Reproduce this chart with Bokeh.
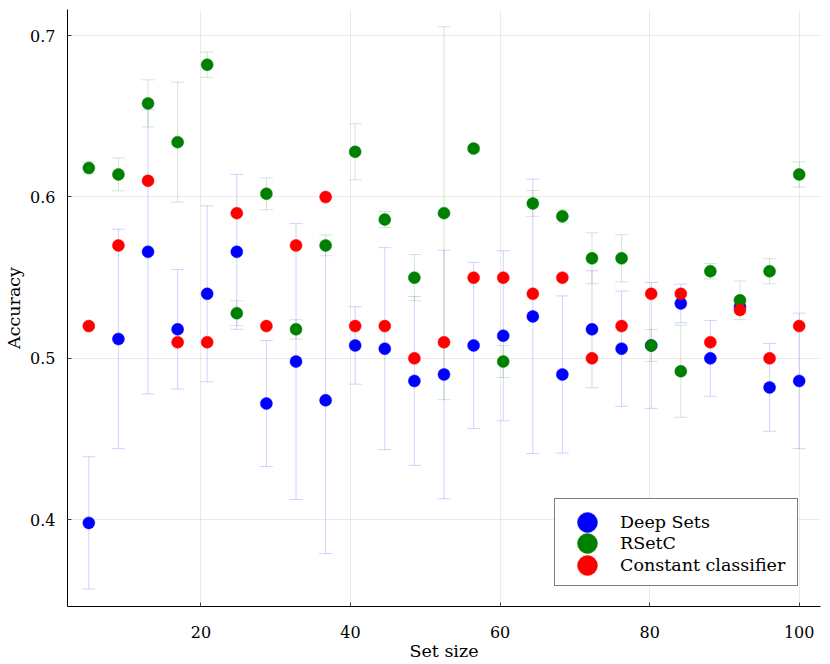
from bokeh.plotting import figure
from bokeh.models import ColumnDataSource, Legend, LegendItem, FixedTicker, Range1d
from bokeh.embed import file_html
from bokeh.resources import INLINE

# ---- data ----
set_size = [5.0, 8.96, 12.92, 16.88, 20.83, 24.79, 28.75, 32.71, 36.67, 40.62, 44.58, 48.54,
            52.5, 56.46, 60.42, 64.38, 68.33, 72.29, 76.25, 80.21, 84.17, 88.12, 92.08, 96.04, 100.0]

deepsets_mean = [0.398, 0.512, 0.566, 0.518, 0.540, 0.566, 0.472, 0.498, 0.474, 0.508, 0.506, 0.486,
                 0.490, 0.508, 0.514, 0.526, 0.490, 0.518, 0.506, 0.508, 0.534, 0.500, 0.532, 0.482, 0.486]
deepsets_err = [0.041, 0.068, 0.088, 0.037, 0.0545, 0.048, 0.039, 0.0855, 0.095, 0.024, 0.0626, 0.0523,
                0.077, 0.0515, 0.0527, 0.085, 0.0487, 0.0363, 0.0357, 0.039, 0.012, 0.0235, 0.004, 0.0272, 0.042]

rsetc_mean = [0.618, 0.614, 0.658, 0.634, 0.682, 0.528, 0.602, 0.518, 0.570, 0.628, 0.586, 0.550,
              0.590, 0.630, 0.498, 0.596, 0.588, 0.562, 0.562, 0.508, 0.492, 0.554, 0.536, 0.554, 0.614]
rsetc_err = [0.0037, 0.0102, 0.0146, 0.0372, 0.0078, 0.0077, 0.0099, 0.006, 0.0064, 0.0174, 0.005, 0.0143,
             0.1156, 0.002, 0.0099, 0.008, 0.004, 0.0158, 0.0146, 0.0099, 0.0285, 0.0048, 0.012, 0.0078, 0.0078]

const_mean = [0.52, 0.57, 0.61, 0.51, 0.51, 0.59, 0.52, 0.57, 0.60, 0.52, 0.52, 0.50,
              0.51, 0.55, 0.55, 0.54, 0.55, 0.50, 0.52, 0.54, 0.54, 0.51, 0.53, 0.50, 0.52]

x_ticks = [20, 40, 60, 80, 100]
y_ticks = [0.4, 0.5, 0.6, 0.7]

series = [
    ("Deep Sets", deepsets_mean, deepsets_err, "#0000ff"),
    ("RSetC", rsetc_mean, rsetc_err, "#008000"),
    ("Constant classifier", const_mean, None, "#ff0000"),
]

FONT = "DejaVu Serif"

p = figure(width=830, height=664, output_backend="svg", toolbar_location=None,
           x_range=Range1d(2.15, 102.85), y_range=Range1d(0.3462, 0.7162),
           min_border_left=67, min_border_right=10, min_border_top=9, min_border_bottom=58)
p.outline_line_color = None
p.background_fill_color = "white"

renderers = []
for name, mean, err, color in series:
    if err is not None:
        src = ColumnDataSource(dict(
            x=set_size,
            lo=[m - e for m, e in zip(mean, err)],
            hi=[m + e for m, e in zip(mean, err)],
        ))
        p.segment(x0="x", y0="lo", x1="x", y1="hi", source=src,
                  line_color=color, line_alpha=0.18, line_width=1)
        p.scatter(x="x", y="hi", source=src, marker="dash", size=13,
                  line_color=color, line_alpha=0.18, line_width=1)
        p.scatter(x="x", y="lo", source=src, marker="dash", size=13,
                  line_color=color, line_alpha=0.18, line_width=1)
    r = p.scatter(x=set_size, y=mean, size=12, fill_color=color, line_color=color,
                  line_width=0.5)
    renderers.append((name, r))

# axes
for ax in (p.xaxis[0], p.yaxis[0]):
    ax.axis_line_color = "black"
    ax.axis_line_width = 1
    ax.major_tick_in = 4
    ax.major_tick_out = 0
    ax.minor_tick_line_color = None
    ax.major_tick_line_color = "#444444"
    ax.major_label_text_font = FONT
    ax.major_label_text_font_size = "16px"
    ax.major_label_text_color = "black"
    ax.axis_label_text_font = FONT
    ax.axis_label_text_font_size = "17.5px"
    ax.axis_label_text_font_style = "normal"
    ax.axis_label_text_color = "black"

p.xaxis.ticker = FixedTicker(ticks=x_ticks)
p.yaxis.ticker = FixedTicker(ticks=y_ticks)
p.xaxis.major_label_overrides = {t: str(t) for t in x_ticks}
p.yaxis.major_label_overrides = {t: f"{t:.1f}" for t in y_ticks}
p.xaxis.axis_label = "Set size"
p.yaxis.axis_label = "Accuracy"
p.xaxis.major_label_standoff = 19
p.xaxis.axis_label_standoff = 0
p.yaxis.major_label_standoff = 12
p.yaxis.axis_label_standoff = 3

p.xgrid.ticker = FixedTicker(ticks=x_ticks)
p.ygrid.ticker = FixedTicker(ticks=y_ticks)
p.grid.grid_line_color = "black"
p.grid.grid_line_alpha = 0.08
p.grid.grid_line_width = 1

# legend: a framed box plus one transparent single-entry legend per series
dummy = p.scatter(x="x", y="y", source=ColumnDataSource(dict(x=[], y=[])), size=1,
                  fill_alpha=0, line_alpha=0)
box = Legend(
    items=[LegendItem(label=" ", renderers=[dummy])],
    location=(487, 20), glyph_width=222, glyph_height=86, padding=0, margin=0,
    label_standoff=0, label_width=20, label_text_font_size="10px", label_height=10,
    border_line_color="black", border_line_width=1,
    background_fill_color="white", background_fill_alpha=1,
)
p.add_layout(box, "center")

row_bottoms = [59, 38, 16]
for (name, r), yb in zip(renderers, row_bottoms):
    lg = Legend(
        items=[LegendItem(label=name, renderers=[r])],
        location=(490, yb), glyph_width=60, glyph_height=50,
        padding=0, margin=0, spacing=0, label_standoff=3,
        label_text_font=FONT, label_text_font_size="17.5px", label_text_color="black",
        label_height=22,
        border_line_color=None, background_fill_alpha=0,
    )
    p.add_layout(lg, "center")

open("out.html", "w").write(file_html(p, INLINE))
